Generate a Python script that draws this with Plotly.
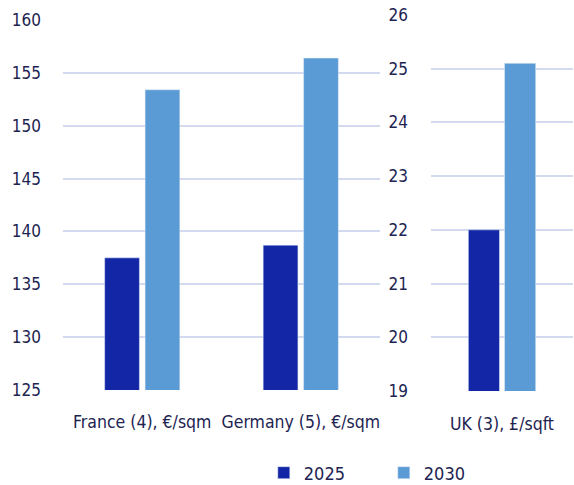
import plotly.graph_objects as go

# Rent levels by market: euro markets share the left axis, UK has its own scale
eu_markets = ["France (4), €/sqm", "Germany (5), €/sqm"]
eu_2025 = [137.5, 138.7]
eu_2030 = [153.4, 156.4]

uk_markets = ["UK (3), £/sqft"]
uk_2025 = [22.0]
uk_2030 = [25.1]

series_names = ["2025", "2030"]
eu_ticks = [125, 130, 135, 140, 145, 150, 155, 160]
uk_ticks = [19, 20, 21, 22, 23, 24, 25, 26]

DARK = "#1226A6"
LIGHT = "#5B9BD5"
GRID = "#D3DAF0"
TEXT = "#1D2451"
FONT = "DejaVu Sans Condensed"

fig = go.Figure()
fig.add_trace(go.Bar(x=eu_markets, y=eu_2025, name=series_names[0], marker_color=DARK,
                     legendgroup="a", xaxis="x", yaxis="y"))
fig.add_trace(go.Bar(x=eu_markets, y=eu_2030, name=series_names[1], marker_color=LIGHT,
                     legendgroup="b", xaxis="x", yaxis="y"))
fig.add_trace(go.Bar(x=uk_markets, y=uk_2025, name=series_names[0], marker_color=DARK,
                     legendgroup="a", showlegend=False, xaxis="x2", yaxis="y2"))
fig.add_trace(go.Bar(x=uk_markets, y=uk_2030, name=series_names[1], marker_color=LIGHT,
                     legendgroup="b", showlegend=False, xaxis="x2", yaxis="y2"))

ytickfont = dict(family=FONT, size=17, color=TEXT)
xtickfont = dict(family=FONT, size=17.5, color=TEXT)

fig.update_layout(
    width=574, height=485,
    margin=dict(l=63, r=1, t=15, b=94, autoexpand=False),
    paper_bgcolor="white", plot_bgcolor="white",
    barmode="group", bargap=0.49, bargroupgap=0.14,
    font=dict(family=FONT, color=TEXT),
    xaxis=dict(domain=[0, 0.6216], anchor="y", showgrid=False, showline=False,
               ticks="", tickfont=xtickfont, ticklabelstandoff=20, tickangle=0,
               automargin=False),
    yaxis=dict(domain=[0.0027, 0.9867], anchor="x", range=[125, 160],
               tickvals=eu_ticks, showgrid=True, gridcolor=GRID, gridwidth=2,
               zeroline=False, showline=False, ticks="", tickfont=ytickfont,
               ticklabelstandoff=21, automargin=False),
    xaxis2=dict(domain=[0.7216, 1], anchor="y2", showgrid=False, showline=False,
                ticks="", tickfont=xtickfont, ticklabelstandoff=20, tickangle=0,
                automargin=False),
    yaxis2=dict(domain=[0, 1], anchor="x2", range=[19, 26], tickvals=uk_ticks,
                showgrid=True, gridcolor=GRID, gridwidth=2, zeroline=False,
                showline=False, ticks="", tickfont=ytickfont, ticklabelstandoff=22,
                automargin=False),
    legend=dict(orientation="h", x=0.629, xanchor="center", y=-0.218, yanchor="middle",
                font=dict(family=FONT, size=18, color=TEXT),
                entrywidth=75, itemwidth=30, tracegroupgap=0),
    showlegend=True,
)

fig.write_html("out.html")
